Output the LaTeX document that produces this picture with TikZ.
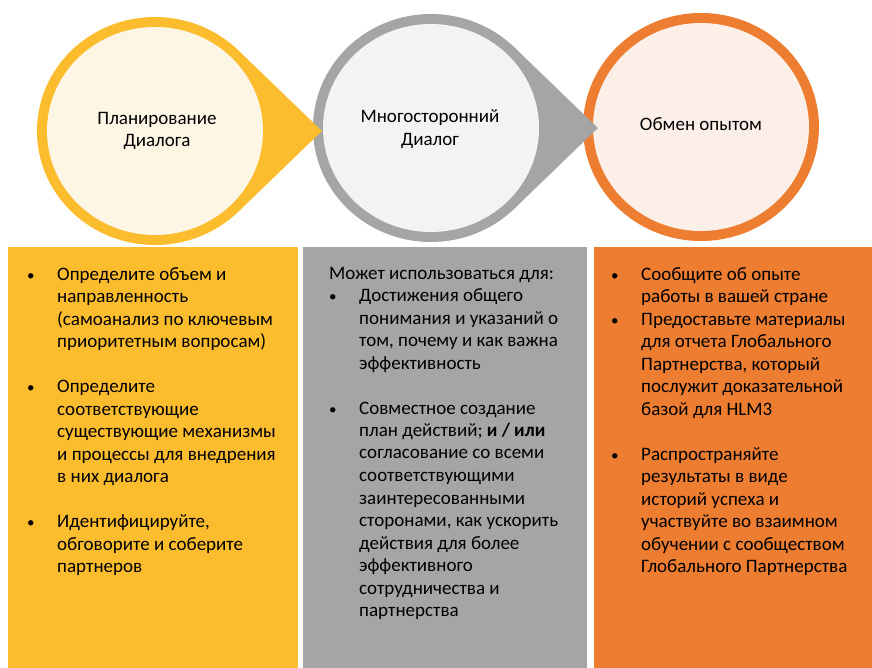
\documentclass[tikz,border=0pt]{standalone}
\usepackage{fontspec}
\setmainfont{Carlito}
\usepackage{xcolor}
\usepackage{tikz}
\usetikzlibrary{positioning}

\definecolor{gold}{HTML}{FBBC2E}
\definecolor{palegold}{HTML}{FEF6E4}
\definecolor{ringgrey}{HTML}{A5A5A5}
\definecolor{palegrey}{HTML}{F3F3F3}
\definecolor{ringorange}{HTML}{ED7D31}
\definecolor{paleorange}{HTML}{FBEFE8}

\newcommand{\dotmark}{{\fontsize{15}{15}\selectfont\textbullet}}

\begin{document}
\begin{tikzpicture}[x=1pt, y=-1pt,
        title/.style={align=center, inner sep=0pt, font=\fontsize{19}{22.5}\selectfont},
        list/.style={anchor=base west, inner sep=0pt, font=\fontsize{19}{22.5}\selectfont}]
        \useasboundingbox (0,0) rectangle (872,668);

        % circles, drawn from right to left
        \fill[ringorange] (701,127) ellipse [x radius=118, y radius=114];
        \fill[paleorange] (701,127) ellipse [x radius=108, y radius=104];

        \fill[ringgrey] (597.9,128) -- (514.4,47.4) arc [start angle=-45, end angle=-315, x radius=118, y radius=114] -- cycle;
        \fill[palegrey] (431,128) ellipse [x radius=108, y radius=104];

        \fill[gold] (321.9,131) -- (238.4,50.4) arc [start angle=-45, end angle=-315, x radius=118, y radius=114] -- cycle;
        \fill[palegold] (155,131) ellipse [x radius=108, y radius=104];

        \node[title] (plan) at (157,131) {Планирование\\Диалога};
        \node[title] (multi) at (430,129) {Многосторонний\\Диалог};
        \node[title] (exchange) at (701,124) {Обмен опытом};

        % boxes
        \fill[gold] (8,247) rectangle (298,668);
        \fill[ringgrey] (303,247) rectangle (587,668);
        \fill[ringorange] (594,247) rectangle (872,668);

        \node[list] (planlist) at (27,280) {\begin{tabular}[t]{@{}p{30pt}@{}l@{}}
            \dotmark & Определите объем и\\
            & направленность\\
            & (самоанализ по ключевым\\
            & приоритетным вопросам)\\
            & \\
            \dotmark & Определите\\
            & соответствующие\\
            & существующие механизмы\\
            & и процессы для внедрения\\
            & в них диалога\\
            & \\
            \dotmark & Идентифицируйте,\\
            & обговорите и соберите\\
            & партнеров
        \end{tabular}};

        \node[list] (multilist) at (329,279) {\begin{tabular}[t]{@{}p{30pt}@{}l@{}}
            \multicolumn{2}{@{}l@{}}{Может использоваться для:}\\
            \dotmark & Достижения общего\\
            & понимания и указаний о\\
            & том, почему и как важна\\
            & эффективность\\
            & \\
            \dotmark & Совместное создание\\
            & план действий; \textbf{и / или}\\
            & согласование со всеми\\
            & соответствующими\\
            & заинтересованными\\
            & сторонами, как ускорить\\
            & действия для более\\
            & эффективного\\
            & сотрудничества и\\
            & партнерства
        \end{tabular}};

        \node[list] (exchlist) at (611,280) {\begin{tabular}[t]{@{}p{30pt}@{}l@{}}
            \dotmark & Сообщите об опыте\\
            & работы в вашей стране\\
            \dotmark & Предоставьте материалы\\
            & для отчета Глобального\\
            & Партнерства, который\\
            & послужит доказательной\\
            & базой для HLM3\\
            & \\
            \dotmark & Распространяйте\\
            & результаты в виде\\
            & историй успеха и\\
            & участвуйте во взаимном\\
            & обучении с сообществом\\
            & Глобального Партнерства
        \end{tabular}};
\end{tikzpicture}
\end{document}
